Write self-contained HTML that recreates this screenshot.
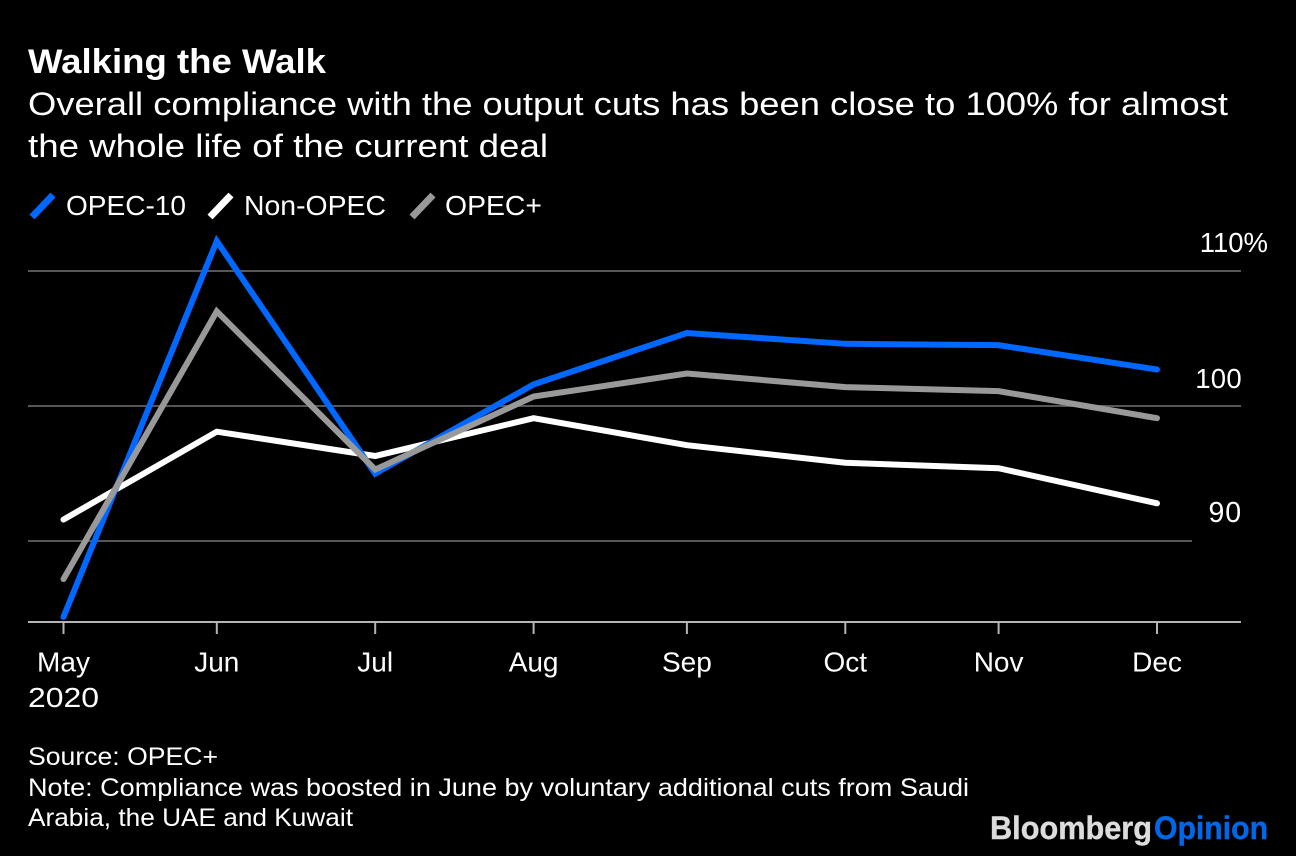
<!DOCTYPE html>
<html lang="en">
<head>
<meta charset="utf-8">
<title>Walking the Walk</title>
<style>
html,body{margin:0;padding:0;background:#000;width:1296px;height:856px;overflow:hidden}
svg{display:block}
text{font-family:"Liberation Sans",sans-serif;fill:#fff}
</style>
</head>
<body>
<svg id="chart" width="1296" height="856" viewBox="0 0 1296 856" xmlns="http://www.w3.org/2000/svg">
  <rect x="0" y="0" width="1296" height="856" fill="#000"/>
  <text x="28" y="73" font-size="34" font-weight="700" textLength="298" lengthAdjust="spacingAndGlyphs">Walking the Walk</text>
  <text x="28" y="115" font-size="32" textLength="1200" lengthAdjust="spacingAndGlyphs">Overall compliance with the output cuts has been close to 100% for almost</text>
  <text x="28" y="157" font-size="32" textLength="520" lengthAdjust="spacingAndGlyphs">the whole life of the current deal</text>

  <g>
    <line x1="32" y1="217" x2="53" y2="195" stroke="#0068ff" stroke-width="7"/>
    <text x="66" y="215" font-size="27.5" textLength="120" lengthAdjust="spacingAndGlyphs">OPEC-10</text>
    <line x1="210" y1="217" x2="231" y2="195" stroke="#ffffff" stroke-width="7"/>
    <text x="244" y="215" font-size="27.5" textLength="142" lengthAdjust="spacingAndGlyphs">Non-OPEC</text>
    <line x1="412" y1="217" x2="433" y2="195" stroke="#999999" stroke-width="7"/>
    <text x="445" y="215" font-size="27.5" textLength="97" lengthAdjust="spacingAndGlyphs">OPEC+</text>
  </g>

  <g id="grid"></g>
  <g id="axis"></g>
  <g id="series"></g>

  <text x="28" y="707" font-size="27.5" textLength="71" lengthAdjust="spacingAndGlyphs">2020</text>

  <text x="28" y="765" font-size="25" textLength="190" lengthAdjust="spacingAndGlyphs">Source: OPEC+</text>
  <text x="28" y="796" font-size="25" textLength="941" lengthAdjust="spacingAndGlyphs">Note: Compliance was boosted in June by voluntary additional cuts from Saudi</text>
  <text x="28" y="826" font-size="25" textLength="325" lengthAdjust="spacingAndGlyphs">Arabia, the UAE and Kuwait</text>

  <g>
    <text x="990" y="839" font-size="32" font-weight="700" style="fill:#dcdcdc;stroke:#dcdcdc;stroke-width:0.4" textLength="162" lengthAdjust="spacingAndGlyphs">Bloomberg</text>
    <text x="1154" y="839" font-size="32" font-weight="700" style="fill:#0068e8;stroke:#0068e8;stroke-width:0.4" textLength="114" lengthAdjust="spacingAndGlyphs">Opinion</text>
  </g>
</svg>
<script>
// Chart data
var months = ['May', 'Jun', 'Jul', 'Aug', 'Sep', 'Oct', 'Nov', 'Dec'];
var monthEndDates = ['2020-05-31', '2020-06-30', '2020-07-31', '2020-08-31', '2020-09-30', '2020-10-31', '2020-11-30', '2020-12-31'];
var opec10 = [84.4, 112.2, 95.0, 101.6, 105.4, 104.6, 104.5, 102.7];
var nonOpec = [91.6, 98.1, 96.3, 99.1, 97.1, 95.8, 95.4, 92.8];
var opecPlus = [87.2, 107.0, 95.3, 100.7, 102.4, 101.4, 101.1, 99.1];
var yTicks = [110, 100, 90];
var yTickLabels = ['110%', '100', '90'];

var NS = 'http://www.w3.org/2000/svg';
var startT = Date.parse(monthEndDates[0]);
var endT = Date.parse(monthEndDates[monthEndDates.length - 1]);

function xScale(dateStr) {
  return 63.5 + (Date.parse(dateStr) - startT) / (endT - startT) * (1157 - 63.5);
}
function yScale(v) {
  return 406 - (v - 100) * 13.52;
}
function make(tag, attrs, parent) {
  var el = document.createElementNS(NS, tag);
  for (var k in attrs) { el.setAttribute(k, attrs[k]); }
  parent.appendChild(el);
  return el;
}

var gridG = document.getElementById('grid');
yTicks.forEach(function (t, i) {
  var y = Math.round(yScale(t));
  var line = make('line', { x1: 28, x2: t === 90 ? 1192 : 1241, y1: y, y2: y, stroke: '#565656', 'stroke-width': 2 }, gridG);
  
  
  var label = make('text', {
    x: t === 110 ? 1268 : 1242,
    y: y - (t === 100 ? 18 : 19),
    'font-size': t === 90 ? 28.5 : 27.5,
    'text-anchor': 'end',
    'letter-spacing': t === 90 ? 0.9 : (t === 100 ? 0.3 : 0)
  }, gridG);
  label.textContent = yTickLabels[i];
  
  
});

var axisG = document.getElementById('axis');
var axisLine = make('line', { x1: 28, x2: 1241, y1: 622, y2: 622, stroke: '#b4b4b4', 'stroke-width': 2 }, axisG);


months.forEach(function (m, i) {
  var x = xScale(monthEndDates[i]);
  var tick = make('line', { x1: x, x2: x, y1: 622, y2: 634, stroke: '#b4b4b4', 'stroke-width': 2 }, axisG);
  
  
  var label = make('text', { x: x, y: 671.5, 'font-size': 28, 'text-anchor': 'middle' }, axisG);
  label.textContent = m;
  
  
});

var seriesG = document.getElementById('series');
function drawSeries(values, color, name) {
  var pts = values.map(function (v, i) {
    return xScale(monthEndDates[i]).toFixed(2) + ',' + yScale(v).toFixed(2);
  }).join(' ');
  var line = make('polyline', { points: pts, fill: 'none', stroke: color, 'stroke-width': 6, 'stroke-linecap': 'round', 'stroke-linejoin': 'miter' }, seriesG);
  
  
}
drawSeries(nonOpec, '#ffffff', 'line-non-opec');
drawSeries(opec10, '#0068ff', 'line-opec-10');
drawSeries(opecPlus, '#999999', 'line-opec-plus');
</script>
</body>
</html>
